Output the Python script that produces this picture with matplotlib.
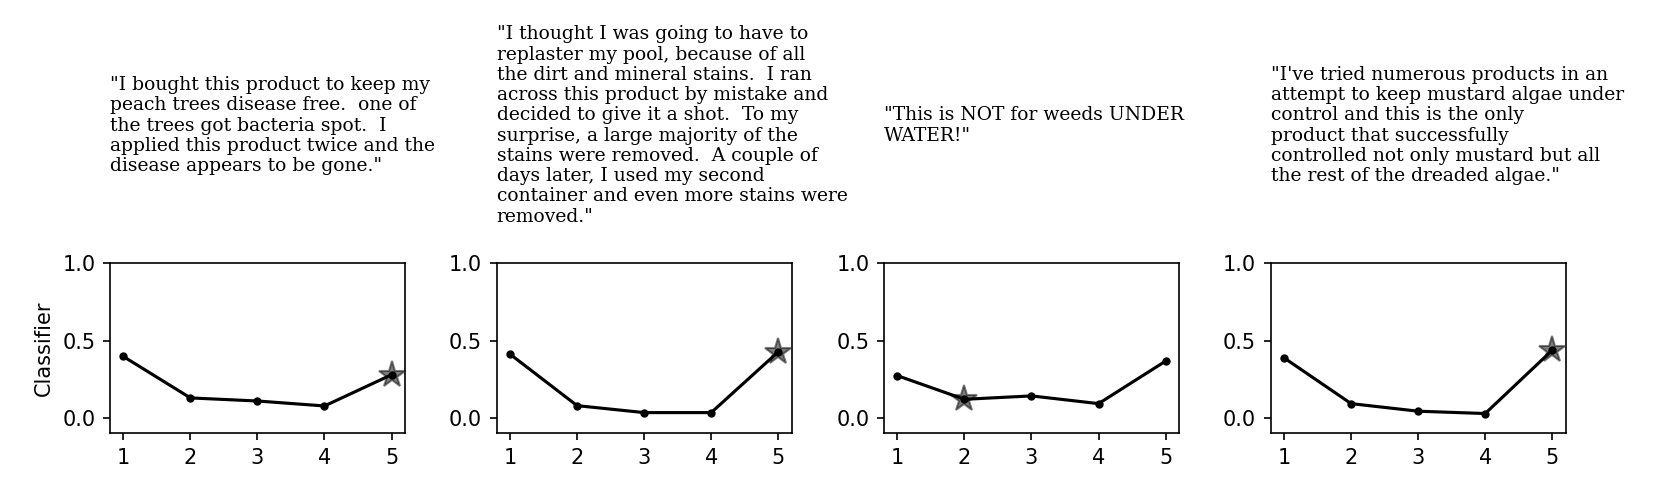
import matplotlib
matplotlib.use("Agg")
import matplotlib.pyplot as plt

x_ticks = [1, 2, 3, 4, 5]

review_texts = [
    '"I bought this product to keep my\npeach trees disease free.  one of\nthe trees got bacteria spot.  I\napplied this product twice and the\ndisease appears to be gone."',
    '"I thought I was going to have to\nreplaster my pool, because of all\nthe dirt and mineral stains.  I ran\nacross this product by mistake and\ndecided to give it a shot.  To my\nsurprise, a large majority of the\nstains were removed.  A couple of\ndays later, I used my second\ncontainer and even more stains were\nremoved."',
    '"This is NOT for weeds UNDER\nWATER!"',
    '"I\'ve tried numerous products in an\nattempt to keep mustard algae under\ncontrol and this is the only\nproduct that successfully\ncontrolled not only mustard but all\nthe rest of the dreaded algae."',
]

scores_1 = [0.397, 0.129, 0.109, 0.077, 0.279]
scores_2 = [0.412, 0.079, 0.034, 0.034, 0.427]
scores_3 = [0.273, 0.120, 0.142, 0.092, 0.367]
scores_4 = [0.388, 0.092, 0.043, 0.028, 0.438]
all_scores = [scores_1, scores_2, scores_3, scores_4]

true_ratings = [5, 5, 2, 5]

fig = plt.figure(figsize=(1661 / 150, 498 / 150), dpi=150)

lefts = [0.0662, 0.2990, 0.5322, 0.7650]
width = 0.1776
bottom = 0.1299
height = 0.3414

for i, (left, scores, text, star) in enumerate(zip(lefts, all_scores, review_texts, true_ratings)):
    ax = fig.add_axes([left, bottom, width, height])
    ax.plot([star], [scores[star - 1]], marker='*', color='k', alpha=0.5,
            markersize=13, linestyle='none', zorder=2)
    ax.plot(x_ticks, scores, '.-', color='k', zorder=3)
    ax.set_xlim(0.8, 5.2)
    ax.set_ylim(-0.1, 1.0)
    ax.set_xticks(x_ticks)
    ax.set_yticks([0.0, 0.5, 1.0])
    if i == 0:
        ax.set_ylabel('Classifier')
    ax.text(0.0, 1.81, text, transform=ax.transAxes, ha='left', va='center',
            family='DejaVu Serif', fontsize=9, linespacing=1.16,
            multialignment='left')

fig.savefig('out.png', dpi=150)
